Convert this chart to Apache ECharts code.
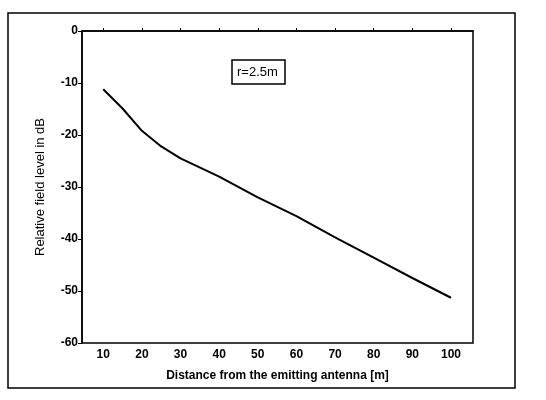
<!DOCTYPE html>
<html>
<head>
<meta charset="utf-8">
<script src="https://cdn.jsdelivr.net/npm/echarts@6/dist/echarts.min.js"></script>
<style>
  html, body { margin: 0; padding: 0; background: #fff; }
  #chart { width: 546px; height: 400px; }
</style>
</head>
<body>
<div id="chart"></div>
<script>
// distance from antenna [m] and relative field level [dB]
const distance = [10, 15, 20, 25, 30, 40, 50, 60, 70, 80, 90, 100]
const fieldLevel = [-11.2, -14.9, -19.2, -22.2, -24.5, -28.0, -32.0, -35.6, -39.7, -43.6, -47.5, -51.3]
const xTicks = [10, 20, 30, 40, 50, 60, 70, 80, 90, 100]
const yTicks = [0, -10, -20, -30, -40, -50, -60]
const legendText = 'r=2.5m'

const chart = echarts.init(document.getElementById('chart'))
const font = 'Liberation Sans, Arial, sans-serif'

chart.setOption({
  animation: false,
  title: {
    text: legendText,
    left: 232,
    top: 60,
    padding: [6, 7, 5, 5],
    borderColor: '#000',
    borderWidth: 1.5,
    textStyle: { fontFamily: font, fontSize: 13, fontWeight: 'normal', color: '#000' }
  },
  graphic: [{
    type: 'rect',
    shape: { x: 8, y: 13, width: 507, height: 375 },
    style: { fill: 'none', stroke: '#000', lineWidth: 1.5 }
  }],
  grid: {
    left: 82,
    top: 31,
    right: 73,
    bottom: 57,
    show: true,
    borderColor: '#000',
    borderWidth: 1.5
  },
  xAxis: {
    type: 'value',
    min: 4.5,
    max: 105.7,
    name: 'Distance from the emitting antenna [m]',
    nameLocation: 'middle',
    nameGap: 27,
    nameTextStyle: { fontFamily: font, fontSize: 12, fontWeight: 'bold', color: '#000' },
    axisLine: { show: true, lineStyle: { color: '#000', width: 1.5 } },
    axisTick: { show: true, customValues: xTicks, length: 3, inside: true, lineStyle: { color: '#000' } },
    axisLabel: { customValues: xTicks, fontFamily: font, fontSize: 12, fontWeight: 'bold', color: '#000', margin: 6 },
    splitLine: { show: false }
  },
  yAxis: {
    type: 'value',
    min: -60,
    max: 0,
    name: 'Relative field level in dB',
    nameLocation: 'middle',
    nameGap: 35,
    nameRotate: 90,
    nameTextStyle: { fontFamily: font, fontSize: 13, fontWeight: 'normal', color: '#000' },
    axisLine: { show: true, lineStyle: { color: '#000', width: 1.5 } },
    axisTick: { show: true, customValues: yTicks, length: 4, lineStyle: { color: '#000' } },
    axisLabel: { customValues: yTicks, fontFamily: font, fontSize: 12, fontWeight: 'bold', color: '#000', margin: 4 },
    splitLine: { show: false }
  },
  series: [{
    type: 'line',
    data: distance.map((d, i) => [d, fieldLevel[i]]),
    showSymbol: false,
    lineStyle: { color: '#000', width: 2 }
  }]
})
</script>
</body>
</html>
